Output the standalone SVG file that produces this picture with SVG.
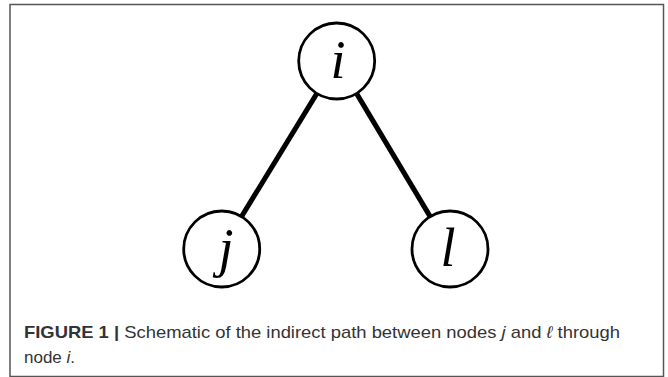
<svg xmlns="http://www.w3.org/2000/svg" width="668" height="377" viewBox="0 0 668 377">
<style>
.node circle{fill:#fff;stroke:#000;stroke-width:2.8}
.lbl{font-family:"Liberation Serif","Times New Roman",serif;font-style:italic;font-size:54px;fill:#000;text-anchor:middle}
.edge{stroke:#000;stroke-width:5;stroke-linecap:butt}
.cap{font-family:"Liberation Sans",Arial,sans-serif;font-size:17px;fill:#333}
</style>
<rect x="0" y="0" width="668" height="377" fill="#fff"/>
<rect x="10" y="4.5" width="653.5" height="372" fill="none" stroke="#555" stroke-width="1.5"/>
<g id="connectors">
<line class="edge" x1="316.9" y1="93.4" x2="241.5" y2="216.6"/>
<line class="edge" x1="356.5" y1="93.4" x2="430.2" y2="216.6"/>
</g>
<g id="node-i" class="node"><circle cx="336.7" cy="61" r="38"/><text class="lbl" x="338" y="78">i</text></g>
<g id="node-j" class="node"><circle cx="221.7" cy="249" r="38"/><text class="lbl" x="226" y="266">j</text></g>
<g id="node-l" class="node"><circle cx="450" cy="249" r="38"/><text class="lbl" x="448" y="266">l</text></g>
<g id="caption" class="cap">
<text x="24" y="338" textLength="596" lengthAdjust="spacingAndGlyphs"><tspan font-weight="bold">FIGURE 1 |</tspan> Schematic of the indirect path between nodes <tspan font-style="italic">j</tspan> and <tspan font-style="italic">ℓ</tspan> through</text>
<text x="24" y="363">node <tspan font-style="italic">i</tspan>.</text>
</g>
</svg>
